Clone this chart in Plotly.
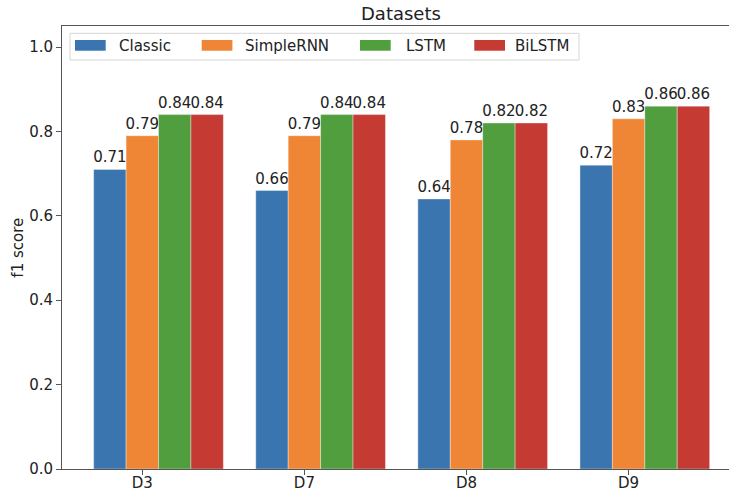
import plotly.graph_objects as go

categories = ["D3", "D7", "D8", "D9"]
series_names = ["Classic", "SimpleRNN", "LSTM", "BiLSTM"]
classic = [0.71, 0.66, 0.64, 0.72]
simplernn = [0.79, 0.79, 0.78, 0.83]
lstm = [0.84, 0.84, 0.82, 0.86]
bilstm = [0.84, 0.84, 0.82, 0.86]
yticks = [0.0, 0.2, 0.4, 0.6, 0.8, 1.0]

colors = ["#3a75af", "#ef8636", "#519e3e", "#c53a32"]
offsets = [-0.2, 0.0, 0.2, 0.4]
bar_w = 0.2

FONT = "DejaVu Sans"
TXT = "#222222"

W, H = 729, 492
ML, MT, MR = 62, 26, 0
PLOT_BOTTOM = 468.7
MB = H - PLOT_BOTTOM
PW = W - ML - MR
PH = PLOT_BOTTOM - MT


def px2x(sx):
    return (sx - ML) / PW


def px2y(sy):
    return (PLOT_BOTTOM - sy) / PH


fig = go.Figure()
for name, vals, col, off in zip(series_names, [classic, simplernn, lstm, bilstm], colors, offsets):
    fig.add_trace(go.Bar(
        name=name,
        x=[i + off for i in range(len(categories))],
        y=vals,
        width=bar_w,
        marker=dict(color=col, line=dict(color="rgba(255,255,255,0.6)", width=0.6)),
        text=[f"{v:g}" for v in vals],
        textposition="outside",
        constraintext="none",
        cliponaxis=False,
        textfont=dict(family=FONT, size=15, color=TXT),
        showlegend=False,
        hoverinfo="skip",
    ))

# x range from pixel geometry of the reference
unit = 162.1
x0_px = 142.3
xmin = (62 - x0_px) / unit
xmax = (729 - x0_px) / unit

shapes = []
annotations = []

# legend box
lx0, lx1, ly0, ly1 = px2x(70), px2x(579), px2y(60), px2y(33.3)
shapes.append(dict(type="rect", xref="paper", yref="paper", x0=lx0, x1=lx1, y0=ly0, y1=ly1,
                   line=dict(color="#d6d6d6", width=1), fillcolor="rgba(255,255,255,0.8)", layer="above"))
patch_x = [75, 201.7, 360, 474.3]
text_x = [118, 244, 405, 514.3]
for name, col, px, tx in zip(series_names, colors, patch_x, text_x):
    shapes.append(dict(type="rect", xref="paper", yref="paper",
                       x0=px2x(px), x1=px2x(px + 30.7), y0=px2y(50.7), y1=px2y(40),
                       line=dict(width=0), fillcolor=col, layer="above"))
    annotations.append(dict(text=name, xref="paper", yref="paper", x=px2x(tx - 1), y=px2y(45.5),
                            xanchor="left", yanchor="middle", showarrow=False,
                            font=dict(family=FONT, size=15, color=TXT)))

# y axis title
annotations.append(dict(text="f1 score", xref="paper", yref="paper", x=px2x(18), y=px2y(247.5),
                        xanchor="center", yanchor="middle", textangle=-90, showarrow=False,
                        font=dict(family=FONT, size=15, color=TXT)))
# title
annotations.append(dict(text="Datasets", xref="paper", yref="paper", x=px2x(401), y=px2y(14),
                        xanchor="center", yanchor="middle", showarrow=False,
                        font=dict(family=FONT, size=18, color=TXT)))

fig.update_layout(
    width=W, height=H,
    barmode="overlay",
    paper_bgcolor="white", plot_bgcolor="white",
    margin=dict(l=ML, r=MR, t=MT, b=MB, pad=0),
    font=dict(family=FONT, size=15, color=TXT),
    showlegend=False,
    hovermode=False,
    shapes=shapes,
    annotations=annotations,
    xaxis=dict(range=[xmin, xmax], tickvals=list(range(len(categories))), ticktext=categories,
               showline=True, linecolor="#555", linewidth=1, mirror=True,
               ticks="outside", ticklen=5, tickcolor="#555", showgrid=False, zeroline=False,
               ticklabelstandoff=-5,
               tickfont=dict(family=FONT, size=15, color=TXT), automargin=False),
    yaxis=dict(range=[0, 1.05], tickvals=yticks, ticktext=[f"{t:.1f}" for t in yticks],
               showline=True, linecolor="#555", linewidth=1,
               ticks="outside", ticklen=5, tickcolor="#555", showgrid=False, zeroline=False,
               tickfont=dict(family=FONT, size=15, color=TXT), automargin=False),
)

fig.write_html("out.html", config={"displayModeBar": False, "staticPlot": True},
               post_script="document.body.style.margin='0px';document.body.style.overflow='hidden';")
